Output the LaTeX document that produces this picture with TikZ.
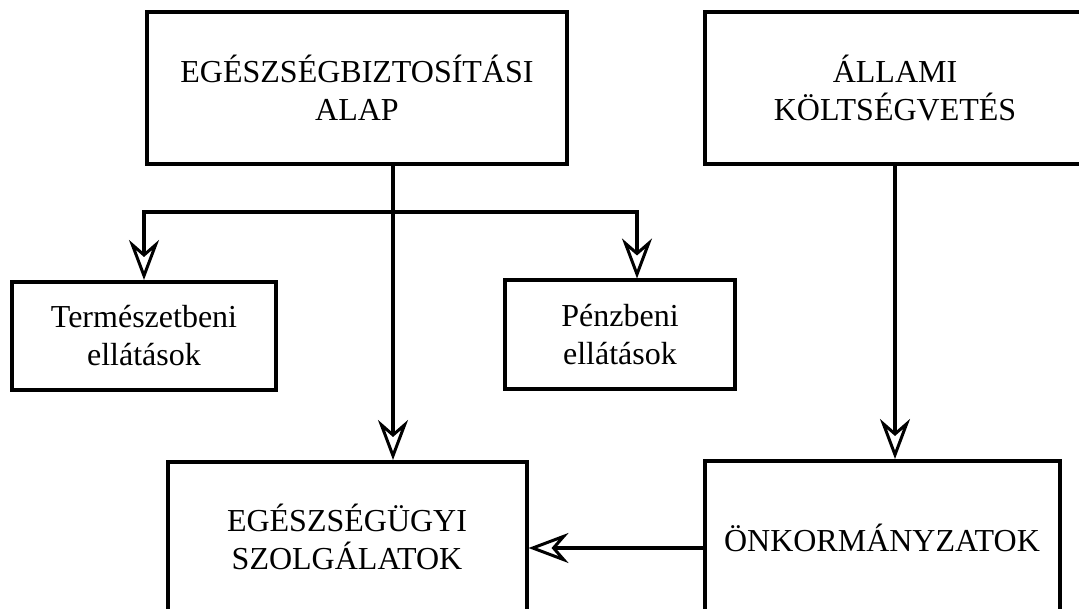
\documentclass[tikz,border=0pt]{standalone}
\usepackage{fontspec}
\setmainfont{Liberation Serif}
\usetikzlibrary{arrows.meta}
\begin{document}
\begin{tikzpicture}
[x=1pt, y=-1pt,
 boxdecorate/.style={shape=rectangle, draw, line width=4pt, inner sep=0pt,
   align=center, font=\fontsize{32}{38}\selectfont},
 linedecorate/.style={line width=4pt},
 arrowdecorate/.style={linedecorate,
   -{Stealth[open, length=40pt, width=30pt, inset=13pt, line width=3pt]}}]
\useasboundingbox (0,0) rectangle (1079,609);
%% boxes
\foreach \nodename/\x/\y/\w/\h/\txt in {
  alap/357/88/420/152/{EGÉSZSÉGBIZTOSÍTÁSI\\ALAP},
  kolts/895/88/380/152/{ÁLLAMI\\KÖLTSÉGVETÉS},
  termesz/144/336/264/108/{Természetbeni\\ellátások},
  penz/620/335/230/109/{Pénzbeni\\ellátások},
  szolg/347/537/359/150/{EGÉSZSÉGÜGYI\\SZOLGÁLATOK},
  onkorm/882/538/355/154/{ÖNKORMÁNYZATOK}}
{
  \node (\nodename) at (\x,\y) [boxdecorate, minimum width=\w pt,
    minimum height=\h pt] {\txt};
}
%% helper points
\coordinate (fork) at (393,212);
\coordinate (penzfoot) at (637,280);
\coordinate (link) at (600,548);
%% connectors
\draw[arrowdecorate] (alap.south -| fork) -- (szolg.north -| fork);
\draw[arrowdecorate] (fork) -| (termesz.north);
\draw[arrowdecorate] (fork) -| (penz.north -| penzfoot);
\draw[arrowdecorate] (kolts.south) -- (kolts.south |- onkorm.north);
\draw[arrowdecorate] (onkorm.west |- link) -- (szolg.east |- link);
\end{tikzpicture}
\end{document}
